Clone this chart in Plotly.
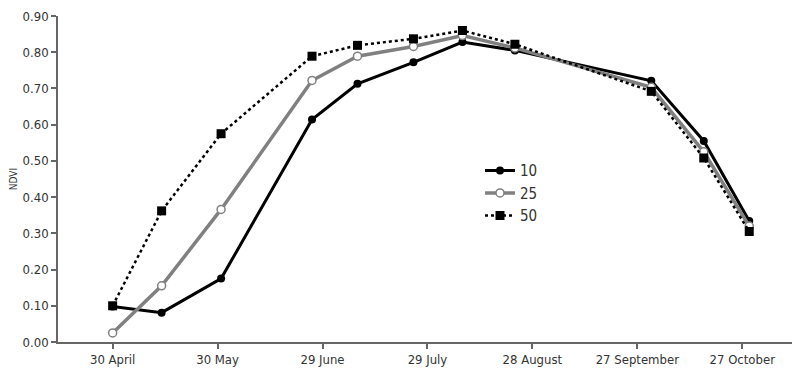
import plotly.graph_objects as go

dates = ["2011-04-30", "2011-05-14", "2011-05-31", "2011-06-26", "2011-07-09",
         "2011-07-25", "2011-08-08", "2011-08-23", "2011-10-01", "2011-10-16", "2011-10-29"]
ndvi_10 = [0.098, 0.081, 0.175, 0.614, 0.713, 0.772, 0.828, 0.805, 0.721, 0.555, 0.334]
ndvi_25 = [0.025, 0.155, 0.366, 0.722, 0.789, 0.816, 0.846, 0.812, 0.703, 0.525, 0.320]
ndvi_50 = [0.100, 0.362, 0.575, 0.789, 0.819, 0.837, 0.860, 0.822, 0.692, 0.508, 0.305]

tick_dates = ["2011-04-30", "2011-05-30", "2011-06-29", "2011-07-29",
              "2011-08-28", "2011-09-27", "2011-10-27"]
tick_text = ["30 April", "30 May", "29 June", "29 July", "28 August", "27 September", "27 October"]
y_ticks = [0.0, 0.1, 0.2, 0.3, 0.4, 0.5, 0.6, 0.7, 0.8, 0.9]

FONT = "DejaVu Sans Condensed, Liberation Sans Narrow, Arial Narrow, sans-serif"

fig = go.Figure()
fig.add_trace(go.Scatter(
    x=dates, y=ndvi_10, name="10", mode="lines+markers",
    line=dict(color="#000000", width=3),
    marker=dict(symbol="circle", size=8, color="#000000"),
))
fig.add_trace(go.Scatter(
    x=dates, y=ndvi_25, name="25", mode="lines+markers",
    line=dict(color="#808080", width=3.5),
    marker=dict(symbol="circle", size=8, color="#ffffff", line=dict(color="#808080", width=1.5)),
))
fig.add_trace(go.Scatter(
    x=dates, y=ndvi_50, name="50", mode="lines+markers",
    line=dict(color="#000000", width=2.5, dash="dot"),
    marker=dict(symbol="square", size=9, color="#000000"),
))

# the page body adds an 8px margin, so the figure is sized to fit the window
fig.update_layout(
    width=792, height=367,
    margin=dict(l=50, r=5, t=8, b=33),
    paper_bgcolor="white", plot_bgcolor="white",
    font=dict(family=FONT, size=13, color="#333333"),
    showlegend=True,
    legend=dict(x=0.5726, y=0.576, xanchor="left", yanchor="top",
                bgcolor="rgba(0,0,0,0)", font=dict(size=15, color="#333333"),
                tracegroupgap=0, itemwidth=30),
    xaxis=dict(
        type="date", automargin=False,
        range=["2011-04-14 09:00", "2011-11-11 02:00"],
        tickmode="array", tickvals=tick_dates, ticktext=tick_text,
        showgrid=False, zeroline=False,
        showline=True, linecolor="#666666", linewidth=1.5,
        ticks="outside", ticklen=5, tickcolor="#666666", tickwidth=1.5,
        tickfont=dict(size=13),
    ),
    yaxis=dict(
        automargin=False,
        range=[0, 0.9],
        tickmode="array", tickvals=y_ticks, tickformat=".2f",
        ticklabeloverflow="allow",
        showgrid=False, zeroline=False,
        showline=True, linecolor="#666666", linewidth=1.5,
        ticks="outside", ticklen=5, tickcolor="#666666", tickwidth=1.5,
        tickfont=dict(size=13),
        title=dict(text="NDVI", font=dict(size=10), standoff=7),
    ),
)

fig.write_html("out.html")
